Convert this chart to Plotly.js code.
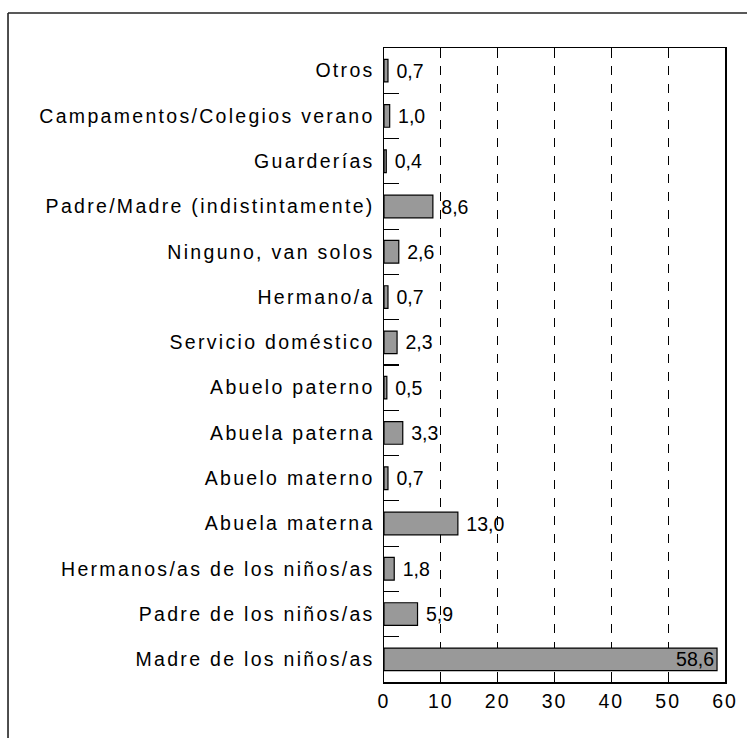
<!DOCTYPE html>
<html>
<head>
<meta charset="utf-8">
<script src="https://cdn.plot.ly/plotly-3.0.1.min.js"></script>
<style>
html,body{margin:0;padding:0;background:#fff;}
#chart{width:747px;height:738px;}
#chart .ytick text{letter-spacing:2.3px;}
#chart .xtick text{letter-spacing:2px;}
</style>
</head>
<body>
<div id="chart"></div>
<script>
const categories = [
  "Otros",
  "Campamentos/Colegios verano",
  "Guarderías",
  "Padre/Madre (indistintamente)",
  "Ninguno, van solos",
  "Hermano/a",
  "Servicio doméstico",
  "Abuelo paterno",
  "Abuela paterna",
  "Abuelo materno",
  "Abuela materna",
  "Hermanos/as de los niños/as",
  "Padre de los niños/as",
  "Madre de los niños/as"
];
const values = [0.7, 1.0, 0.4, 8.6, 2.6, 0.7, 2.3, 0.5, 3.3, 0.7, 13.0, 1.8, 5.9, 58.6];
const xTicks = [0, 10, 20, 30, 40, 50, 60];

const textPos = values.map(v => v > 30 ? "inside" : "outside");

const trace = {
  type: "bar",
  orientation: "h",
  y: categories,
  x: values,
  width: 0.5,
  marker: {color: "#999999", line: {color: "#000000", width: 1.2}},
  texttemplate: "\u00A0%{x:.1f}",
  textposition: textPos,
  insidetextanchor: "end",
  constraintext: "none",
  textfont: {family: "Liberation Sans, Arial, sans-serif", size: 19.5, color: "#000"},
  cliponaxis: false,
  hoverinfo: "none"
};

const frameColor = "#222";
const layout = {
  width: 747,
  height: 738,
  margin: {l: 384, r: 22, t: 48, b: 56},
  paper_bgcolor: "#fff",
  plot_bgcolor: "#fff",
  separators: ",.",
  showlegend: false,
  font: {family: "Liberation Sans, Arial, sans-serif", size: 19.5, color: "#000"},
  xaxis: {
    range: [0, 60],
    tickvals: xTicks,
    ticks: "inside",
    ticklen: 10,
    tickcolor: "#000",
    tickwidth: 1.2,
    showline: true,
    linecolor: "#000",
    linewidth: 1.5,
    mirror: "ticks",
    showgrid: true,
    gridcolor: "#000",
    gridwidth: 1,
    griddash: "dash",
    zeroline: false,
    ticklabelstandoff: 1,
    tickfont: {size: 19.5}
  },
  yaxis: {
    type: "category",
    autorange: "reversed",
    ticks: "inside",
    tickson: "boundaries",
    ticklen: 15,
    tickcolor: "#000",
    tickwidth: 1.2,
    showline: true,
    linecolor: "#000",
    linewidth: 1.5,
    mirror: true,
    showgrid: false,
    zeroline: false,
    ticklabelstandoff: 4,
    tickfont: {size: 19.5}
  },
  shapes: [
    {type: "line", xref: "paper", yref: "paper", x0: -1.1026, x1: 1.07, y0: 1.0552, y1: 1.0552, line: {color: frameColor, width: 1.6}},
    {type: "line", xref: "paper", yref: "paper", x0: -1.1026, x1: -1.1026, y0: 1.0552, y1: -0.09, line: {color: frameColor, width: 1.6}}
  ]
};

Plotly.newPlot("chart", [trace], layout, {displayModeBar: false, staticPlot: true});
</script>
</body>
</html>
